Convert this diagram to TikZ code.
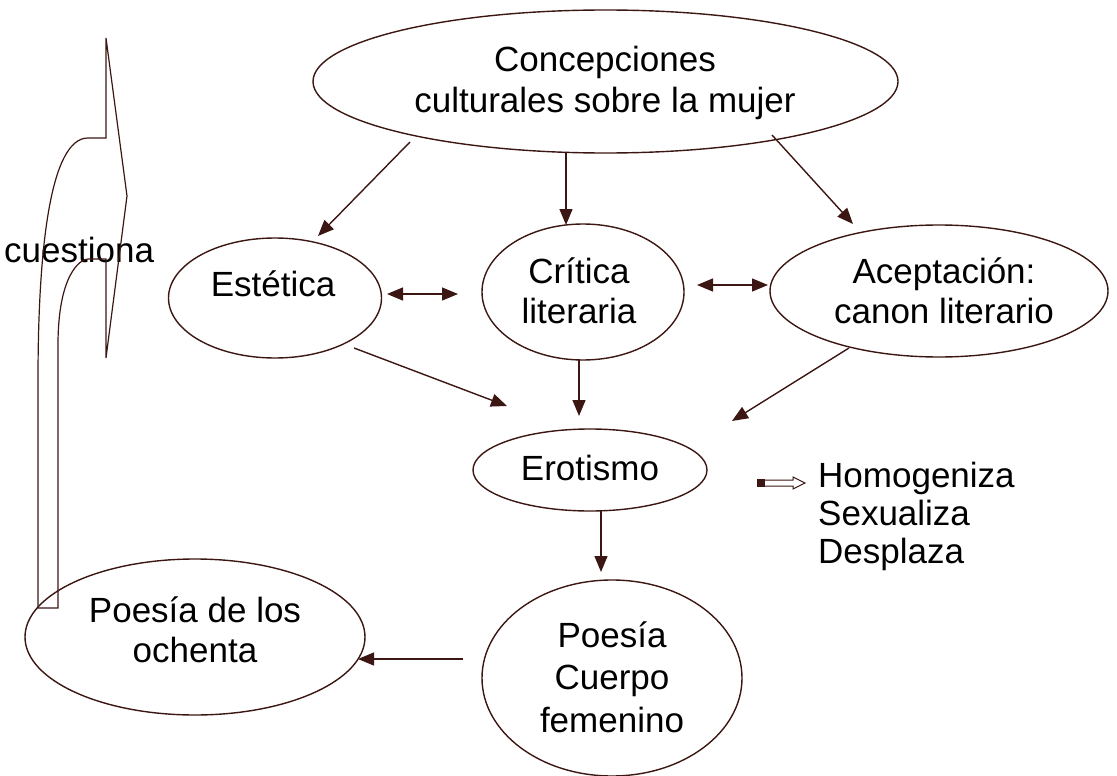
\documentclass[tikz,border=0pt]{standalone}
\usepackage{fontspec}
\setmainfont{Liberation Sans}
\usetikzlibrary{shapes.geometric,arrows.meta,calc}
\definecolor{brn}{RGB}{59,22,18}
\tikzset{
  ell/.style={draw=brn, line width=1.4pt, ellipse, inner sep=0pt},
  txt/.style={align=center, font=\fontsize{35}{40}\selectfont, inner sep=0pt, anchor=base},
  arr/.style={draw=brn, line width=1.4pt, -{Triangle[length=16pt,width=13pt]}},
  darr/.style={draw=brn, line width=1.4pt, {Triangle[length=16pt,width=13pt]}-{Triangle[length=16pt,width=13pt]}}
}
\begin{document}
\begin{tikzpicture}[x=1pt,y=-1pt]
\useasboundingbox (0,0) rectangle (1117,776);
% ellipses
\node[ell, minimum width=585pt, minimum height=143pt] (top) at (605.5,81.5) {};
\node[ell, minimum width=213pt, minimum height=120pt] (est) at (275,298) {};
\node[ell, minimum width=202pt, minimum height=136pt] (cri) at (583,292) {};
\node[ell, minimum width=338pt, minimum height=132pt] (ace) at (939,291) {};
\node[ell, minimum width=234pt, minimum height=82pt] (ero) at (590,470) {};
\node[ell, minimum width=260pt, minimum height=196pt] (poe) at (612,678) {};
\node[ell, minimum width=340pt, minimum height=156pt] (och) at (195,637) {};
% texts (anchor base = baseline of last line)
\node[txt] (topT) at (605,112) {Concepciones\\culturales sobre la mujer};
\node[txt] (estT) at (273,296) {Estética};
\node[txt] (criT) at (579,323) {Crítica\\literaria};
\node[txt] (aceT) at (944,323) {Aceptación:\\canon literario};
\node[txt] (eroT) at (590,480) {Erotismo};
\node[txt, font=\fontsize{35}{42.5}\selectfont] (poeT) at (612,732) {Poesía\\Cuerpo\\femenino};
\node[txt] (ochT) at (195,662) {Poesía de los\\ochenta};
\node[txt, anchor=base west] (cue) at (4,262) {cuestiona};
\node[txt, anchor=base west, align=left, font=\fontsize{35}{38}\selectfont] (hom) at (818,563) {Homogeniza\\Sexualiza\\Desplaza};
% connectors
\draw[arr] ($(top)+(-195.5,60.5)$) -- ($(est)+(43,-62)$);
\draw[arr] ($(top)+(-39.5,71.5)$) -- ($(cri)+(-17,-67)$);
\draw[arr] ($(top)+(166.5,53.5)$) -- ($(ace)+(-86,-67)$);
\draw[darr] ($(est)+(112,-4)$) -- ($(cri)+(-125,2)$);
\draw[darr] ($(cri)+(114,-7)$) -- ($(ace)+(-171,-6)$);
\draw[arr] ($(est)+(79,50)$) -- ($(ero)+(-83,-64)$);
\draw[arr] ($(cri)+(-4,68)$) -- ($(ero)+(-11,-54)$);
\draw[arr] ($(ace)+(-90,57)$) -- ($(ero)+(142,-49)$);
\draw[arr] ($(ero)+(11,41)$) -- ($(poe)+(-11,-106)$);
\draw[arr] ($(poe)+(-149,-19)$) -- ($(och)+(163,22)$);
% big curved arrow "cuestiona"
\draw[brn, line width=1.2pt, line join=miter]
  (38,608) -- (38,380) .. controls (38,250) and (50,138) .. (88,138)
  -- (106,138) -- (106,38) -- (127,196) -- (106,358) -- (106,259) -- (88,259)
  .. controls (80,259) and (58,275) .. (58,345) -- (58,608) -- cycle;
% small open arrow
\fill[brn] (757,479) rectangle (765,487);
\draw[brn, line width=1pt] (765,480) -- (793,480) -- (793,477) -- (805,483) -- (793,489) -- (793,486) -- (765,486);
\end{tikzpicture}
\end{document}
